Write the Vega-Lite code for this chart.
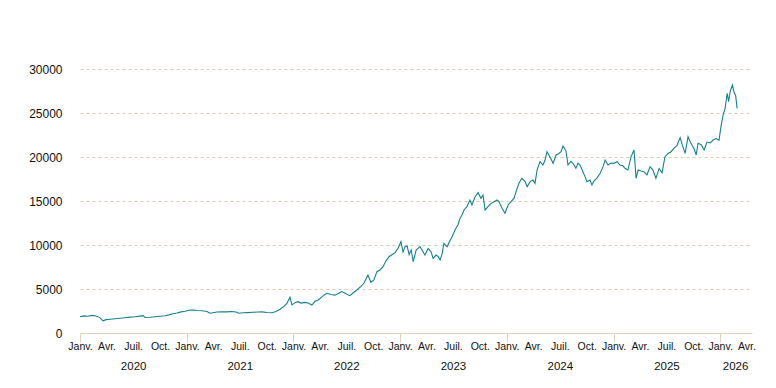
{
  "$schema": "https://vega.github.io/schema/vega-lite/v6.json",
  "width": 672,
  "height": 264,
  "autosize": "none",
  "padding": {"left": 80, "top": 69, "right": 24, "bottom": 55},
  "background": "white",
  "config": {"view": {"stroke": null}, "font": "Liberation Sans"},
  "resolve": {"axis": {"x": "independent"}},
  "layer": [
    {
      "data": {"values": [
        {"date": "2020-01-01", "v": 1850}, {"date": "2020-01-15", "v": 1950}, {"date": "2020-01-28", "v": 1900},
        {"date": "2020-02-11", "v": 2000}, {"date": "2020-02-25", "v": 1930}, {"date": "2020-03-09", "v": 1750},
        {"date": "2020-03-20", "v": 1380}, {"date": "2020-03-30", "v": 1520}, {"date": "2020-04-13", "v": 1560},
        {"date": "2020-04-30", "v": 1620}, {"date": "2020-05-17", "v": 1680}, {"date": "2020-06-03", "v": 1740},
        {"date": "2020-06-20", "v": 1800}, {"date": "2020-07-07", "v": 1850}, {"date": "2020-07-24", "v": 1920},
        {"date": "2020-08-04", "v": 1970}, {"date": "2020-08-11", "v": 1760}, {"date": "2020-08-28", "v": 1790},
        {"date": "2020-09-14", "v": 1840}, {"date": "2020-10-01", "v": 1900}, {"date": "2020-10-18", "v": 1960},
        {"date": "2020-11-01", "v": 2060}, {"date": "2020-11-14", "v": 2180}, {"date": "2020-11-28", "v": 2270},
        {"date": "2020-12-12", "v": 2400}, {"date": "2020-12-26", "v": 2480},
        {"date": "2021-01-08", "v": 2580}, {"date": "2021-01-22", "v": 2620}, {"date": "2021-02-05", "v": 2560},
        {"date": "2021-02-22", "v": 2530}, {"date": "2021-03-11", "v": 2450}, {"date": "2021-03-21", "v": 2250},
        {"date": "2021-03-31", "v": 2300}, {"date": "2021-04-14", "v": 2380}, {"date": "2021-05-01", "v": 2420},
        {"date": "2021-05-18", "v": 2400}, {"date": "2021-06-04", "v": 2440}, {"date": "2021-06-18", "v": 2380},
        {"date": "2021-06-28", "v": 2250}, {"date": "2021-07-12", "v": 2300}, {"date": "2021-07-29", "v": 2320},
        {"date": "2021-08-15", "v": 2350}, {"date": "2021-09-01", "v": 2380}, {"date": "2021-09-15", "v": 2400},
        {"date": "2021-10-02", "v": 2330}, {"date": "2021-10-19", "v": 2300}, {"date": "2021-11-02", "v": 2450},
        {"date": "2021-11-16", "v": 2700}, {"date": "2021-11-30", "v": 3050}, {"date": "2021-12-10", "v": 3400},
        {"date": "2021-12-20", "v": 4060}, {"date": "2021-12-27", "v": 3200},
        {"date": "2022-01-06", "v": 3450}, {"date": "2022-01-16", "v": 3560}, {"date": "2022-01-27", "v": 3400},
        {"date": "2022-02-09", "v": 3480}, {"date": "2022-02-20", "v": 3420}, {"date": "2022-03-05", "v": 3180},
        {"date": "2022-03-16", "v": 3600}, {"date": "2022-03-26", "v": 3750}, {"date": "2022-04-05", "v": 4000},
        {"date": "2022-04-15", "v": 4300}, {"date": "2022-04-26", "v": 4510}, {"date": "2022-05-09", "v": 4380},
        {"date": "2022-05-23", "v": 4300}, {"date": "2022-06-02", "v": 4450}, {"date": "2022-06-16", "v": 4700},
        {"date": "2022-06-30", "v": 4450}, {"date": "2022-07-13", "v": 4240}, {"date": "2022-07-24", "v": 4540},
        {"date": "2022-08-06", "v": 4890}, {"date": "2022-08-20", "v": 5300}, {"date": "2022-08-30", "v": 5650},
        {"date": "2022-09-13", "v": 6590}, {"date": "2022-09-23", "v": 5760}, {"date": "2022-10-03", "v": 6020},
        {"date": "2022-10-14", "v": 6970}, {"date": "2022-10-24", "v": 7160}, {"date": "2022-11-03", "v": 7500},
        {"date": "2022-11-14", "v": 8200}, {"date": "2022-11-24", "v": 8670}, {"date": "2022-12-04", "v": 8900},
        {"date": "2022-12-15", "v": 9130}, {"date": "2022-12-25", "v": 9620},
        {"date": "2023-01-04", "v": 10380}, {"date": "2023-01-11", "v": 9200}, {"date": "2023-01-18", "v": 9810},
        {"date": "2023-01-25", "v": 9900}, {"date": "2023-02-01", "v": 8900}, {"date": "2023-02-08", "v": 9430},
        {"date": "2023-02-15", "v": 8100}, {"date": "2023-02-25", "v": 9430}, {"date": "2023-03-10", "v": 9810},
        {"date": "2023-03-21", "v": 9200}, {"date": "2023-03-27", "v": 8860}, {"date": "2023-04-07", "v": 9600},
        {"date": "2023-04-17", "v": 9240}, {"date": "2023-04-24", "v": 8490}, {"date": "2023-05-04", "v": 8860},
        {"date": "2023-05-11", "v": 8700}, {"date": "2023-05-18", "v": 8300}, {"date": "2023-05-25", "v": 9000},
        {"date": "2023-05-31", "v": 10190}, {"date": "2023-06-11", "v": 9810}, {"date": "2023-06-18", "v": 10300},
        {"date": "2023-06-28", "v": 10940}, {"date": "2023-07-08", "v": 11700}, {"date": "2023-07-18", "v": 12270},
        {"date": "2023-07-25", "v": 13000}, {"date": "2023-08-01", "v": 13410}, {"date": "2023-08-08", "v": 13980},
        {"date": "2023-08-18", "v": 14350}, {"date": "2023-08-28", "v": 15110}, {"date": "2023-09-04", "v": 14550},
        {"date": "2023-09-15", "v": 15490}, {"date": "2023-09-25", "v": 15950}, {"date": "2023-10-05", "v": 15300},
        {"date": "2023-10-12", "v": 15680}, {"date": "2023-10-19", "v": 13980}, {"date": "2023-10-29", "v": 14350},
        {"date": "2023-11-08", "v": 14700}, {"date": "2023-11-19", "v": 14920}, {"date": "2023-11-29", "v": 15110},
        {"date": "2023-12-06", "v": 14900}, {"date": "2023-12-16", "v": 14170}, {"date": "2023-12-26", "v": 13600},
        {"date": "2024-01-06", "v": 14550}, {"date": "2024-01-16", "v": 14920}, {"date": "2024-01-26", "v": 15300},
        {"date": "2024-02-02", "v": 16060}, {"date": "2024-02-12", "v": 17010}, {"date": "2024-02-22", "v": 17580},
        {"date": "2024-03-04", "v": 17200}, {"date": "2024-03-11", "v": 16630}, {"date": "2024-03-21", "v": 17200},
        {"date": "2024-03-31", "v": 17390}, {"date": "2024-04-07", "v": 17000}, {"date": "2024-04-14", "v": 18520},
        {"date": "2024-04-24", "v": 19470}, {"date": "2024-05-04", "v": 19090}, {"date": "2024-05-11", "v": 19600},
        {"date": "2024-05-18", "v": 20600}, {"date": "2024-05-28", "v": 20040}, {"date": "2024-06-08", "v": 19280},
        {"date": "2024-06-18", "v": 20230}, {"date": "2024-06-28", "v": 20400}, {"date": "2024-07-05", "v": 20600},
        {"date": "2024-07-12", "v": 21250}, {"date": "2024-07-22", "v": 20700}, {"date": "2024-07-29", "v": 19090},
        {"date": "2024-08-08", "v": 19500}, {"date": "2024-08-15", "v": 19280}, {"date": "2024-08-25", "v": 18710},
        {"date": "2024-09-01", "v": 19300}, {"date": "2024-09-08", "v": 19090}, {"date": "2024-09-18", "v": 18330},
        {"date": "2024-09-25", "v": 17800}, {"date": "2024-10-02", "v": 17200}, {"date": "2024-10-12", "v": 17390},
        {"date": "2024-10-19", "v": 16820}, {"date": "2024-10-26", "v": 17300}, {"date": "2024-11-05", "v": 17600},
        {"date": "2024-11-16", "v": 18150}, {"date": "2024-11-26", "v": 18900}, {"date": "2024-12-03", "v": 19660},
        {"date": "2024-12-13", "v": 19090}, {"date": "2024-12-23", "v": 19300},
        {"date": "2025-01-02", "v": 19280}, {"date": "2025-01-13", "v": 19470}, {"date": "2025-01-23", "v": 19090},
        {"date": "2025-02-02", "v": 19000}, {"date": "2025-02-09", "v": 18710}, {"date": "2025-02-19", "v": 18520},
        {"date": "2025-03-02", "v": 20040}, {"date": "2025-03-12", "v": 20800}, {"date": "2025-03-19", "v": 17580},
        {"date": "2025-03-26", "v": 18520}, {"date": "2025-04-05", "v": 18400}, {"date": "2025-04-15", "v": 18330},
        {"date": "2025-04-25", "v": 17960}, {"date": "2025-05-06", "v": 18900}, {"date": "2025-05-16", "v": 18520},
        {"date": "2025-05-26", "v": 17580}, {"date": "2025-06-06", "v": 18700}, {"date": "2025-06-16", "v": 18200},
        {"date": "2025-06-26", "v": 20040}, {"date": "2025-07-07", "v": 20400}, {"date": "2025-07-17", "v": 20600},
        {"date": "2025-07-27", "v": 21000}, {"date": "2025-08-06", "v": 21300}, {"date": "2025-08-17", "v": 22200},
        {"date": "2025-08-24", "v": 21400}, {"date": "2025-09-03", "v": 20420}, {"date": "2025-09-13", "v": 22310},
        {"date": "2025-09-23", "v": 21550}, {"date": "2025-10-04", "v": 20900}, {"date": "2025-10-11", "v": 20230},
        {"date": "2025-10-17", "v": 21550}, {"date": "2025-10-28", "v": 21400}, {"date": "2025-11-07", "v": 20800},
        {"date": "2025-11-17", "v": 21700}, {"date": "2025-11-28", "v": 21600}, {"date": "2025-12-08", "v": 21930},
        {"date": "2025-12-18", "v": 22100}, {"date": "2025-12-28", "v": 21900},
        {"date": "2026-01-04", "v": 23500}, {"date": "2026-01-11", "v": 24800}, {"date": "2026-01-18", "v": 25530},
        {"date": "2026-01-25", "v": 27240}, {"date": "2026-01-30", "v": 26300}, {"date": "2026-02-04", "v": 27420},
        {"date": "2026-02-12", "v": 28180}, {"date": "2026-02-18", "v": 27300}, {"date": "2026-02-23", "v": 27000},
        {"date": "2026-02-28", "v": 25530}
      ]},
      "mark": {"type": "line", "color": "#17808f", "strokeWidth": 1.1},
      "encoding": {
        "x": {
          "field": "date", "type": "temporal",
          "scale": {"domain": [{"year": 2020, "month": 1, "date": 1}, {"year": 2026, "month": 4, "date": 20}]},
          "axis": {
            "orient": "bottom", "title": null, "grid": false,
            "values": [
              {"year": 2020, "month": 1, "date": 1}, {"year": 2020, "month": 4, "date": 1}, {"year": 2020, "month": 7, "date": 1}, {"year": 2020, "month": 10, "date": 1},
              {"year": 2021, "month": 1, "date": 1}, {"year": 2021, "month": 4, "date": 1}, {"year": 2021, "month": 7, "date": 1}, {"year": 2021, "month": 10, "date": 1},
              {"year": 2022, "month": 1, "date": 1}, {"year": 2022, "month": 4, "date": 1}, {"year": 2022, "month": 7, "date": 1}, {"year": 2022, "month": 10, "date": 1},
              {"year": 2023, "month": 1, "date": 1}, {"year": 2023, "month": 4, "date": 1}, {"year": 2023, "month": 7, "date": 1}, {"year": 2023, "month": 10, "date": 1},
              {"year": 2024, "month": 1, "date": 1}, {"year": 2024, "month": 4, "date": 1}, {"year": 2024, "month": 7, "date": 1}, {"year": 2024, "month": 10, "date": 1},
              {"year": 2025, "month": 1, "date": 1}, {"year": 2025, "month": 4, "date": 1}, {"year": 2025, "month": 7, "date": 1}, {"year": 2025, "month": 10, "date": 1},
              {"year": 2026, "month": 1, "date": 1}, {"year": 2026, "month": 4, "date": 1}
            ],
            "labelExpr": "['Janv.', 'Févr.', 'Mars', 'Avr.', 'Mai', 'Juin', 'Juil.', 'Août', 'Sept.', 'Oct.', 'Nov.', 'Déc.'][month(datum.value)]",
            "domainColor": "#dcd5bd", "domainWidth": 1,
            "ticks": true, "tickSize": 9, "tickColor": "#dcd5bd", "tickWidth": 1,
            "tickOpacity": {"condition": {"test": "month(datum.value) == 0", "value": 1}, "value": 0},
            "labelPadding": -1, "labelFlush": false, "labelOverlap": false, "labelBound": false,
            "labelFont": "Liberation Sans", "labelFontSize": 10.5, "labelColor": "#111111"
          }
        },
        "y": {
          "field": "v", "type": "quantitative",
          "scale": {"domain": [0, 30000], "nice": false},
          "axis": {
            "title": null, "values": [0, 5000, 10000, 15000, 20000, 25000, 30000],
            "format": "d", "domain": false, "ticks": false, "tickSize": 0, "labelPadding": 18,
            "grid": true, "gridDash": [3, 3], "gridColor": "#d2c29a", "gridWidth": 0.8,
            "labelFont": "Liberation Sans", "labelFontSize": 12, "labelColor": "#111111"
          }
        }
      }
    },
    {
      "data": {"values": [
        {"date": "2020-07-01"}, {"date": "2021-07-01"}, {"date": "2022-07-01"},
        {"date": "2023-07-01"}, {"date": "2024-07-01"}, {"date": "2025-07-01"}, {"date": "2026-02-21"}
      ]},
      "mark": {"type": "point", "opacity": 0, "size": 1},
      "encoding": {
        "x": {
          "field": "date", "type": "temporal",
          "axis": {
            "orient": "bottom", "title": null, "grid": false, "domain": false,
            "ticks": false, "tickSize": 0,
            "values": [
              {"year": 2020, "month": 7, "date": 1}, {"year": 2021, "month": 7, "date": 1}, {"year": 2022, "month": 7, "date": 1},
              {"year": 2023, "month": 7, "date": 1}, {"year": 2024, "month": 7, "date": 1}, {"year": 2025, "month": 7, "date": 1},
              {"year": 2026, "month": 2, "date": 21}
            ],
            "labelExpr": "timeFormat(datum.value, '%Y')",
            "labelPadding": 27, "labelFlush": false, "labelOverlap": false, "labelBound": false,
            "labelFont": "Liberation Sans", "labelFontSize": 11.5, "labelColor": "#111111"
          }
        }
      }
    }
  ]
}
